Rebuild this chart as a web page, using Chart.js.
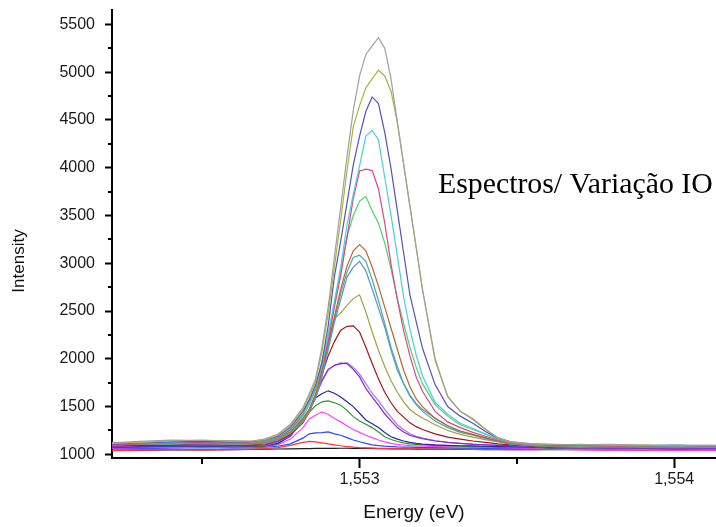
<!DOCTYPE html>
<html>
<head>
<meta charset="utf-8">
<script src="https://cdn.jsdelivr.net/npm/chart.js@4/dist/chart.umd.min.js"></script>
<style>
  html, body { margin: 0; padding: 0; background: #fff; }
  #wrap { width: 716px; height: 527px; position: relative; }
</style>
</head>
<body>
<div id="wrap"><canvas id="chartCanvas"></canvas></div>
<script>
// energy grid (eV), shared by all spectra
const energy = [1.55221, 1.55230, 1.55240, 1.55250, 1.55260, 1.55266,
  1.55270, 1.55274, 1.55278,
  1.55282, 1.55284, 1.55286, 1.55288, 1.55290, 1.55292, 1.55294, 1.55296, 1.55298, 1.55300,
  1.55302, 1.55304, 1.55306, 1.55308, 1.55310, 1.55312, 1.55314, 1.55316, 1.55318, 1.55320,
  1.55324, 1.55328, 1.55332, 1.55336, 1.55340, 1.55344, 1.55348,
  1.55354, 1.55362, 1.55370, 1.55380, 1.55390, 1.55400, 1.55410, 1.55414];

// intensities, one array per spectrum (highest peak first)
const sGray = [1120, 1135, 1150, 1145, 1140, 1140, 1162, 1210, 1315,
  1490, 1635, 1790, 2115, 2535, 3065, 3585, 4115, 4600, 4960,
  5185, 5275, 5360, 5250, 4930, 4480, 4035, 3595, 3165, 2725,
  2005, 1600, 1450, 1365, 1260, 1175, 1132,
  1115, 1105, 1100, 1105, 1095, 1100, 1095, 1095];
const sYellow = [1115, 1125, 1140, 1150, 1135, 1140, 1155, 1200, 1300,
  1470, 1610, 1760, 2070, 2470, 2960, 3450, 3970, 4430, 4650,
  4835, 4930, 5020, 4960, 4800, 4475, 4040, 3600, 3165, 2725,
  1980, 1610, 1450, 1375, 1265, 1170, 1130,
  1110, 1100, 1105, 1095, 1100, 1090, 1095, 1095];
const sIndigo = [1110, 1120, 1130, 1135, 1130, 1135, 1150, 1190, 1285,
  1450, 1570, 1725, 1960, 2340, 2860, 3230, 3630, 4030, 4330,
  4590, 4740, 4670, 4370, 3990, 3550, 3110, 2670, 2390, 2110,
  1730, 1500, 1400, 1325, 1240, 1170, 1130,
  1110, 1095, 1095, 1100, 1090, 1095, 1090, 1090];
const sCyan = [1125, 1115, 1125, 1140, 1145, 1130, 1145, 1185, 1275,
  1430, 1545, 1705, 1920, 2250, 2600, 2960, 3400, 3720, 4020,
  4330, 4390, 4290, 3900, 3500, 3080, 2645, 2310, 2040, 1820,
  1545, 1420, 1325, 1270, 1215, 1160, 1125,
  1105, 1095, 1090, 1095, 1095, 1085, 1090, 1090];
const sPink = [1105, 1110, 1120, 1125, 1130, 1125, 1140, 1175, 1260,
  1420, 1550, 1690, 1920, 2180, 2540, 2870, 3270, 3680, 3965,
  3985, 3970, 3780, 3420, 2990, 2620, 2295, 2030, 1810, 1660,
  1450, 1340, 1280, 1230, 1190, 1150, 1120,
  1105, 1090, 1090, 1085, 1090, 1085, 1085, 1085];
const sGreen = [1115, 1120, 1110, 1125, 1120, 1125, 1135, 1170, 1250,
  1400, 1520, 1670, 1960, 2240, 2580, 2920, 3280, 3500, 3650,
  3700, 3550, 3420, 3210, 2940, 2630, 2370, 2120, 1910, 1740,
  1520, 1400, 1310, 1260, 1210, 1160, 1125,
  1105, 1090, 1085, 1090, 1080, 1085, 1080, 1080];
const sOrange = [1100, 1110, 1115, 1120, 1115, 1120, 1130, 1165, 1240,
  1380, 1470, 1610, 1870, 2150, 2440, 2730, 2970, 3130, 3195,
  3130, 2960, 2760, 2540, 2320, 2100, 1880, 1710, 1580, 1500,
  1375, 1300, 1245, 1210, 1175, 1140, 1115,
  1100, 1085, 1085, 1080, 1085, 1080, 1080, 1080];
const sTeal = [1110, 1105, 1115, 1110, 1115, 1115, 1125, 1160, 1235,
  1370, 1460, 1595, 1850, 2120, 2410, 2680, 2910, 3060, 3085,
  3020, 2830, 2610, 2370, 2120, 1920, 1740, 1610, 1520, 1450,
  1350, 1280, 1230, 1200, 1165, 1135, 1110,
  1095, 1085, 1080, 1085, 1080, 1075, 1080, 1080];
const sSteel = [1095, 1105, 1110, 1115, 1110, 1115, 1120, 1155, 1230,
  1360, 1450, 1585, 1800, 2090, 2380, 2620, 2855, 2960, 3020,
  2920, 2730, 2530, 2330, 2090, 1880, 1740, 1620, 1530, 1470,
  1380, 1300, 1240, 1205, 1170, 1140, 1110,
  1095, 1080, 1080, 1075, 1080, 1075, 1075, 1075];
const sOlive = [1100, 1110, 1120, 1115, 1105, 1110, 1115, 1150, 1220,
  1340, 1440, 1620, 1890, 2180, 2420, 2480, 2560, 2630, 2670,
  2490, 2280, 2090, 1920, 1770, 1650, 1550, 1470, 1420, 1380,
  1310, 1250, 1210, 1180, 1155, 1130, 1110,
  1095, 1080, 1075, 1080, 1075, 1080, 1075, 1075];
const sMaroon = [1090, 1095, 1100, 1105, 1100, 1100, 1110, 1145, 1210,
  1330, 1440, 1610, 1830, 2030, 2180, 2300, 2340, 2345, 2280,
  2120, 1950, 1790, 1650, 1540, 1450, 1390, 1330, 1290, 1260,
  1215, 1180, 1160, 1140, 1125, 1110, 1100,
  1090, 1075, 1070, 1075, 1070, 1070, 1072, 1072];
const sPurple = [1085, 1090, 1095, 1100, 1095, 1095, 1100, 1135, 1200,
  1360, 1470, 1630, 1770, 1890, 1930, 1955, 1950, 1890, 1810,
  1690, 1600, 1515, 1425, 1350, 1280, 1235, 1200, 1180, 1165,
  1140, 1125, 1115, 1105, 1100, 1095, 1090,
  1085, 1070, 1068, 1070, 1065, 1068, 1065, 1065];
const sViolet = [1080, 1090, 1090, 1095, 1090, 1090, 1095, 1130, 1195,
  1340, 1450, 1600, 1760, 1880, 1935, 1945, 1960, 1910, 1840,
  1740, 1640, 1560, 1470, 1390, 1310, 1260, 1215, 1190, 1170,
  1145, 1125, 1115, 1108, 1100, 1095, 1090,
  1085, 1070, 1065, 1068, 1065, 1062, 1065, 1065];
const sNavy = [1075, 1080, 1085, 1080, 1085, 1085, 1090, 1115, 1190,
  1360, 1460, 1590, 1635, 1665, 1640, 1600, 1550, 1500, 1430,
  1360, 1320, 1280, 1230, 1185, 1160, 1140, 1125, 1115, 1108,
  1100, 1095, 1090, 1088, 1085, 1082, 1080,
  1078, 1068, 1065, 1062, 1065, 1060, 1062, 1062];
const sForest = [1070, 1075, 1080, 1085, 1075, 1080, 1085, 1110, 1200,
  1350, 1440, 1510, 1550, 1560, 1540, 1515, 1460, 1395, 1350,
  1315, 1280, 1235, 1185, 1155, 1135, 1120, 1110, 1105, 1100,
  1095, 1090, 1085, 1082, 1080, 1078, 1075,
  1072, 1065, 1062, 1060, 1062, 1058, 1060, 1060];
const sMagenta = [1065, 1070, 1070, 1075, 1070, 1075, 1080, 1100, 1160,
  1280, 1370, 1410, 1445, 1420, 1375, 1340, 1300, 1260, 1230,
  1200, 1175, 1150, 1130, 1115, 1105, 1098, 1092, 1088, 1085,
  1082, 1080, 1078, 1075, 1073, 1070, 1068,
  1065, 1055, 1050, 1048, 1050, 1045, 1048, 1048];
const sBlue = [1060, 1060, 1065, 1070, 1065, 1070, 1075, 1085, 1110,
  1170, 1215, 1225, 1228, 1236, 1215, 1200, 1175, 1150, 1132,
  1115, 1100, 1092, 1086, 1082, 1078, 1076, 1075, 1074, 1072,
  1070, 1068, 1066, 1065, 1063, 1062, 1060,
  1060, 1058, 1055, 1052, 1050, 1052, 1050, 1050];
const sRed = [1040, 1045, 1050, 1048, 1050, 1055, 1060, 1070, 1095,
  1125, 1135, 1130, 1120, 1110, 1100, 1090, 1082, 1075, 1070,
  1068, 1065, 1063, 1062, 1060, 1060, 1058, 1058, 1057, 1056,
  1055, 1055, 1054, 1053, 1052, 1052, 1050,
  1050, 1055, 1050, 1048, 1045, 1048, 1045, 1045];
const sBlack = [1045, 1045, 1048, 1048, 1050, 1052, 1055, 1056, 1058,
  1060, 1060, 1062, 1062, 1063, 1063, 1064, 1064, 1063, 1063,
  1062, 1062, 1060, 1060, 1058, 1058, 1057, 1056, 1055, 1055,
  1054, 1053, 1052, 1052, 1050, 1050, 1050,
  1050, 1050, 1050, 1048, 1050, 1048, 1050, 1050];

const spectra = [sGray, sYellow, sIndigo, sCyan, sPink, sGreen, sOrange, sTeal, sSteel,
  sOlive, sMaroon, sPurple, sViolet, sNavy, sForest, sMagenta, sBlue, sRed, sBlack];
const colors = ['#a0a0a0', '#a9b43a', '#5454b4', '#48d0dc', '#d84890', '#48d46a', '#b8682c', '#48aaaa', '#6090cc',
  '#a4a040', '#a01818', '#8428d0', '#b070ff', '#2828a0', '#289828', '#ff40ff', '#2848ff', '#ff3434', '#1c1c1c'];

// axis ticks
const yTicks = [1000, 1250, 1500, 1750, 2000, 2250, 2500, 2750, 3000, 3250, 3500, 3750, 4000, 4250, 4500, 4750, 5000, 5250, 5500];
const xTicks = [1.5525, 1.553, 1.5535, 1.554];

const isMajorY = v => v % 500 === 0;
const isMajorX = v => Math.abs(v * 1000 - Math.round(v * 1000)) < 1e-6;

// minor ticks + annotation text
const extras = {
  id: 'extras',
  afterDraw(chart) {
    const { ctx, chartArea, scales: { x, y } } = chart;
    ctx.save();
    ctx.strokeStyle = '#000';
    ctx.lineWidth = 2;
    ctx.beginPath();
    yTicks.filter(v => !isMajorY(v)).forEach(v => {
      const py = Math.round(y.getPixelForValue(v));
      ctx.moveTo(chartArea.left - 4, py);
      ctx.lineTo(chartArea.left, py);
    });
    xTicks.filter(v => !isMajorX(v)).forEach(v => {
      const px = Math.round(x.getPixelForValue(v));
      ctx.moveTo(px, chartArea.bottom);
      ctx.lineTo(px, chartArea.bottom + 6);
    });
    ctx.stroke();

    ctx.fillStyle = '#000';
    ctx.font = '29.8px "Liberation Serif", "Times New Roman", serif';
    ctx.textBaseline = 'alphabetic';
    ctx.fillText('Espectros/ Variação IO', 438, 193);

    ctx.translate(19, 261);
    ctx.rotate(-Math.PI / 2);
    ctx.font = '17px "Liberation Sans", Arial, sans-serif';
    ctx.textAlign = 'center';
    ctx.textBaseline = 'middle';
    ctx.fillStyle = '#111';
    ctx.fillText('Intensity', 0, 0);
    ctx.restore();
  }
};

const ctx = document.getElementById('chartCanvas').getContext('2d');

const chart = new Chart(ctx, {
  type: 'line',
  data: {
    datasets: spectra.map((s, i) => ({
      data: energy.map((e, k) => ({ x: e, y: s[k] })),
      borderColor: colors[i],
      borderWidth: 1.2,
      pointRadius: 0,
      tension: 0,
      fill: false
    }))
  },
  options: {
    responsive: true,
    maintainAspectRatio: false,
    animation: false,
    layout: { padding: { top: 10, right: 0, left: 0, bottom: 0 } },
    plugins: { legend: { display: false }, tooltip: { enabled: false } },
    scales: {
      x: {
        type: 'linear',
        min: 1.552213,
        max: 1.554133,
        afterBuildTicks: a => { a.ticks = xTicks.map(v => ({ value: v })); },
        afterFit: s => { s.height = 69; s.paddingLeft = 0; s.paddingRight = 0; },
        ticks: {
          autoSkip: false,
          maxRotation: 0,
          padding: 2,
          color: '#1a1a1a',
          font: { family: '"Liberation Sans", Arial, sans-serif', size: 16 },
          callback: v => isMajorX(v) ? v.toFixed(3).replace('.', ',') : ''
        },
        grid: {
          display: true,
          drawOnChartArea: false,
          drawTicks: true,
          tickLength: 10,
          tickWidth: 2,
          tickColor: c => (c.tick && isMajorX(c.tick.value)) ? '#000' : 'rgba(0,0,0,0)'
        },
        border: { display: true, color: '#000', width: 2 },
        title: {
          display: true,
          text: 'Energy (eV)',
          color: '#111',
          font: { family: '"Liberation Sans", Arial, sans-serif', size: 19 },
          padding: { top: 0, bottom: 3 }
        }
      },
      y: {
        min: 962,
        max: 5650,
        afterBuildTicks: a => { a.ticks = yTicks.map(v => ({ value: v })); },
        afterFit: s => { s.width = 112; s.paddingTop = 0; s.paddingBottom = 0; },
        ticks: {
          autoSkip: false,
          padding: 10,
          color: '#1a1a1a',
          font: { family: '"Liberation Sans", Arial, sans-serif', size: 16 },
          callback: v => isMajorY(v) ? String(v) : ''
        },
        grid: {
          display: true,
          drawOnChartArea: false,
          drawTicks: true,
          tickLength: 7,
          tickWidth: 2,
          tickColor: c => (c.tick && isMajorY(c.tick.value)) ? '#000' : 'rgba(0,0,0,0)'
        },
        border: { display: true, color: '#000', width: 2 }
      }
    }
  },
  plugins: [extras]
});
</script>
</body>
</html>
